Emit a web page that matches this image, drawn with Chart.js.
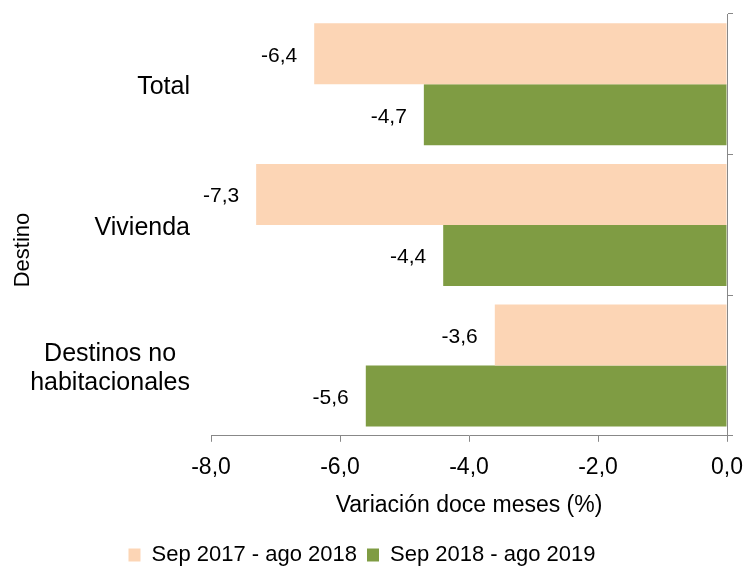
<!DOCTYPE html>
<html>
<head>
<meta charset="utf-8">
<script src="https://cdn.jsdelivr.net/npm/chart.js@4/dist/chart.umd.min.js"></script>
<style>
html,body{margin:0;padding:0;background:#fff;}
#wrap{width:748px;height:567px;position:relative;}
</style>
</head>
<body>
<div id="wrap"><canvas id="c" width="748" height="567"></canvas></div>
<script>
const categories = ['Total', 'Vivienda', ['Destinos no', 'habitacionales']];
const seriesNames = ['Sep 2017 - ago 2018', 'Sep 2018 - ago 2019'];
const series2017 = [-6.4, -7.3, -3.6];
const series2018 = [-4.7, -4.4, -5.6];
const xTicks = [-8, -6, -4, -2, 0];
const yTitle = 'Destino';
const xTitle = 'Variación doce meses (%)';

const FONT = 'Liberation Sans, Arial, sans-serif';
const fmt = v => v.toFixed(1).replace('.', ',');

const labelPlugin = {
  id: 'labelPlugin',
  afterDatasetsDraw(chart) {
    const ctx = chart.ctx;
    ctx.save();
    ctx.fillStyle = '#000';
    ctx.textBaseline = 'middle';
    // value labels
    ctx.font = '21px ' + FONT;
    chart.data.datasets.forEach((ds, di) => {
      const meta = chart.getDatasetMeta(di);
      meta.data.forEach((bar, i) => {
        ctx.textAlign = 'right';
        ctx.fillText(fmt(ds.data[i]), bar.x - 17, bar.y + 2);
      });
    });
    // category labels
    ctx.font = '25px ' + FONT;
    const ys = chart.scales.y;
    const rightEdge = 190;
    const lh = 29;
    categories.forEach((c, i) => {
      const lines = Array.isArray(c) ? c : [c];
      const yc = ys.getPixelForValue(i) + 3;
      const maxW = Math.max(...lines.map(l => ctx.measureText(l).width));
      const cx = rightEdge - maxW / 2;
      ctx.textAlign = 'center';
      lines.forEach((l, k) => {
        const y = yc + (k - (lines.length - 1) / 2) * lh;
        ctx.fillText(l, cx, y);
      });
    });
    // y title
    ctx.font = '22px ' + FONT;
    ctx.translate(23, 250);
    ctx.rotate(-Math.PI / 2);
    ctx.textAlign = 'center';
    ctx.fillText(yTitle, 0, 0);
    ctx.restore();
  }
};

new Chart(document.getElementById('c'), {
  type: 'bar',
  data: {
    labels: categories,
    datasets: [
      { label: seriesNames[0], data: series2017, yAxisID: 'y', backgroundColor: '#FCD5B5', borderWidth: 0, barPercentage: 1.0, categoryPercentage: 0.868 },
      { label: seriesNames[1], data: series2018, yAxisID: 'y', backgroundColor: '#7F9C43', borderWidth: 0, barPercentage: 1.0, categoryPercentage: 0.868 }
    ]
  },
  options: {
    indexAxis: 'y',
    responsive: false,
    animation: false,
    layout: { padding: { left: -12, top: 14, right: 12, bottom: -9 } },
    scales: {
      y: {
        position: 'right',
        ticks: { display: false },
        grid: { drawOnChartArea: false, tickLength: 6, color: '#888', offset: true },
        border: { color: '#888', width: 1 },
        afterFit: s => { s.width = 9; }
      },
      yl: {
        type: 'category',
        position: 'left',
        ticks: { display: false },
        grid: { display: false },
        border: { display: false },
        afterFit: s => { s.width = 223; }
      },
      x: {
        min: -8, max: 0,
        afterBuildTicks: s => { s.ticks = xTicks.map(v => ({ value: v })); },
        afterFit: s => { s.paddingLeft = 0; s.paddingRight = 0; },
        ticks: { callback: v => fmt(v), color: '#000', font: { family: FONT, size: 23 }, padding: 12, maxRotation: 0 },
        grid: { drawOnChartArea: false, tickLength: 6, color: '#888' },
        border: { color: '#888', width: 1 },
        title: { display: true, text: xTitle, color: '#000', font: { family: FONT, size: 23 }, padding: { top: -2, bottom: 15 } }
      }
    },
    plugins: {
      legend: {
        position: 'bottom',
        labels: { boxWidth: 12, boxHeight: 13, color: '#000', font: { family: FONT, size: 22 }, padding: 10 }
      },
      tooltip: { enabled: false }
    }
  },
  plugins: [labelPlugin]
});
</script>
</body>
</html>
